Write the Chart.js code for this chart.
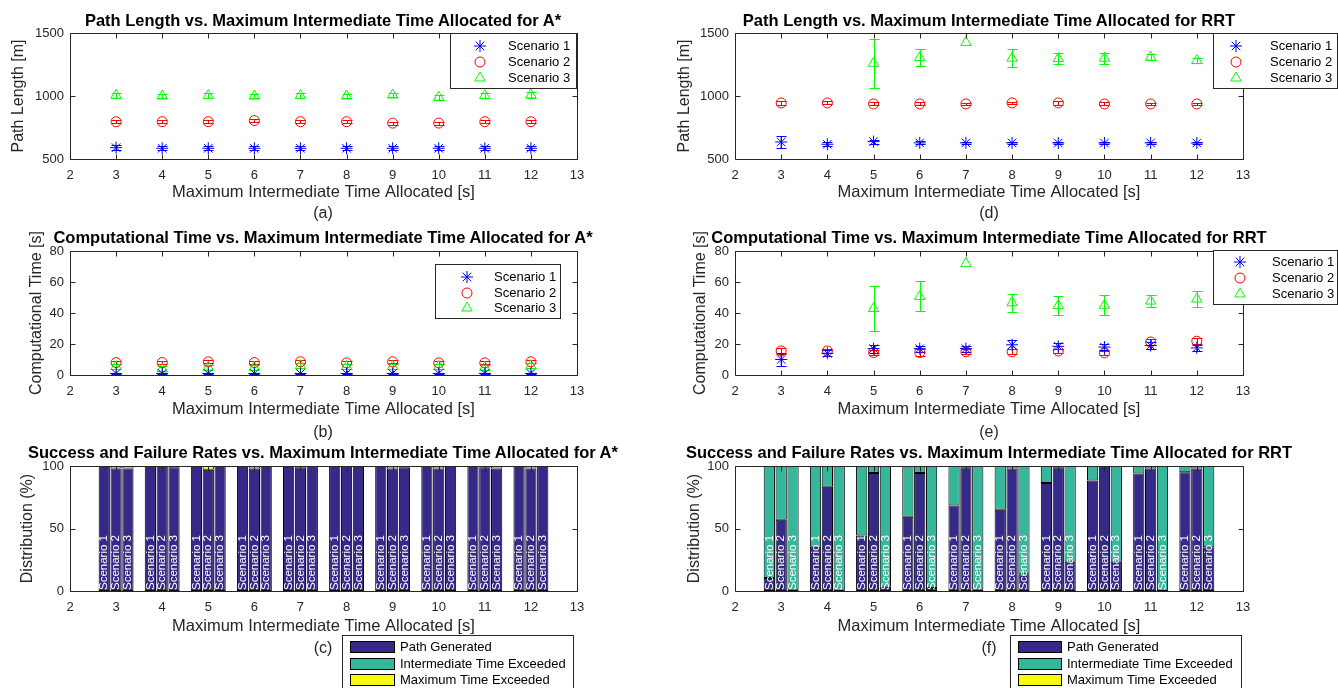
<!DOCTYPE html>
<html>
<head>
<meta charset="utf-8">
<script src="https://cdn.jsdelivr.net/npm/chart.js@4.4.1/dist/chart.umd.min.js"></script>
<style>
  body { margin: 0; background: #fff; }
  #page { position: relative; width: 1338px; height: 688px; overflow: hidden; font-family: "Liberation Sans", Arial, sans-serif; }
  canvas { position: absolute; left: 0; top: 0; }
  .title { position: absolute; font-weight: bold; font-size: 16.5px; color: #000; white-space: nowrap; transform: translate(-50%, -50%); }
  .tag { position: absolute; font-size: 16px; color: #262626; white-space: nowrap; transform: translate(-50%, -50%); }
</style>
</head>
<body>
<div id="page">
  <canvas id="chartA" width="1338" height="688"></canvas>
  <canvas id="chartB" width="1338" height="688"></canvas>
  <canvas id="chartC" width="1338" height="688"></canvas>
  <canvas id="chartD" width="1338" height="688"></canvas>
  <canvas id="chartE" width="1338" height="688"></canvas>
  <canvas id="chartF" width="1338" height="688"></canvas>

  <div class="title" style="left:323px;top:20px">Path Length vs. Maximum Intermediate Time Allocated for A*</div>
  <div class="title" style="left:323px;top:237px">Computational Time vs. Maximum Intermediate Time Allocated for A*</div>
  <div class="title" style="left:323px;top:452px">Success and Failure Rates vs. Maximum Intermediate Time Allocated for A*</div>
  <div class="title" style="left:989px;top:20px">Path Length vs. Maximum Intermediate Time Allocated for RRT</div>
  <div class="title" style="left:989px;top:237px">Computational Time vs. Maximum Intermediate Time Allocated for RRT</div>
  <div class="title" style="left:989px;top:452px">Success and Failure Rates vs. Maximum Intermediate Time Allocated for RRT</div>

  <div class="tag" style="left:323px;top:213px">(a)</div>
  <div class="tag" style="left:323px;top:432px">(b)</div>
  <div class="tag" style="left:323px;top:648px">(c)</div>
  <div class="tag" style="left:989px;top:213px">(d)</div>
  <div class="tag" style="left:989px;top:432px">(e)</div>
  <div class="tag" style="left:989px;top:648px">(f)</div>
</div>
<script>
  // x positions (maximum intermediate time allocated, s)
  var xValues = [3, 4, 5, 6, 7, 8, 9, 10, 11, 12];
  var scenarioNames = ["Scenario 1", "Scenario 2", "Scenario 3"];
  var outcomeNames = ["Path Generated", "Intermediate Time Exceeded", "Maximum Time Exceeded"];

  // (a) A* path length [m]
  var astarLength1 = [590, 585, 585, 585, 585, 585, 585, 585, 585, 585];
  var astarLength2 = [796, 796, 796, 805, 796, 796, 785, 785, 796, 796];
  var astarLength3 = [1005, 1000, 1003, 1000, 1003, 1000, 1008, 990, 1003, 1008];
  var astarLengthErr1 = [20, 15, 15, 15, 15, 15, 15, 15, 15, 15];
  var astarLengthErr2 = [12, 12, 12, 12, 12, 12, 12, 12, 12, 12];
  var astarLengthErr3 = [20, 18, 18, 18, 18, 18, 18, 18, 18, 20];

  // (b) A* computational time [s]
  var astarTime1 = [1, 1, 1, 1, 1, 1, 1, 1, 1, 1];
  var astarTime2 = [8, 8, 8.5, 8, 8.5, 7.8, 8.5, 7.8, 7.8, 8.5];
  var astarTime3 = [5.5, 4, 5, 5, 6, 5.5, 5.5, 5.5, 5, 6];
  var astarTimeErr1 = [0.5, 0.5, 0.5, 0.5, 0.5, 0.5, 0.5, 0.5, 0.5, 0.5];
  var astarTimeErr2 = [1, 1, 1, 1, 1, 1, 1, 1, 1, 1];
  var astarTimeErr3 = [1.5, 1.5, 1.5, 1.5, 1.5, 1.5, 1.5, 1.5, 1.5, 1.5];

  // (c) A* outcome distribution [%]
  var astarGenerated1 = [100, 100, 100, 100, 100, 100, 100, 100, 100, 100];
  var astarGenerated2 = [98, 100, 97, 98, 99, 100, 98, 98, 99, 98];
  var astarGenerated3 = [98, 99, 100, 100, 100, 100, 99, 100, 98, 100];
  var astarIntermediate1 = [0, 0, 0, 0, 0, 0, 0, 0, 0, 0];
  var astarIntermediate2 = [0, 0, 0, 0, 1, 0, 0, 0, 1, 0];
  var astarIntermediate3 = [0, 1, 0, 0, 0, 0, 1, 0, 0, 0];
  var astarMaximum1 = [0, 0, 0, 0, 0, 0, 0, 0, 0, 0];
  var astarMaximum2 = [2, 0, 3, 2, 0, 0, 2, 2, 0, 2];
  var astarMaximum3 = [2, 0, 0, 0, 0, 0, 0, 0, 2, 0];

  // (d) RRT path length [m]
  var rrtLength1 = [635, 617, 638, 628, 628, 628, 627, 627, 628, 627];
  var rrtLength2 = [945, 945, 937, 937, 937, 945, 945, 937, 937, 937];
  var rrtLength3 = [null, null, 1260, 1305, 1425, 1300, 1297, 1300, 1308, 1281];
  var rrtLengthErr1 = [48, 15, 15, 12, 10, 10, 10, 10, 10, 10];
  var rrtLengthErr2 = [15, 12, 12, 12, 10, 10, 15, 12, 10, 10];
  var rrtLengthErr3 = [null, null, 195, 70, 0, 70, 45, 45, 25, 20];

  // (e) RRT computational time [s]
  var rrtTime1 = [10, 14, 17, 17, 17, 19.5, 18.5, 18, 19, 17.5];
  var rrtTime2 = [15.5, 15.5, 14.5, 14.5, 15, 15, 15.5, 14.3, 21.3, 21.8];
  var rrtTime3 = [null, null, 42.9, 50.7, 72, 46.6, 44.8, 45, 47.7, 49];
  var rrtTimeErr1 = [4, 2, 2.5, 2, 2, 3, 2, 2, 2.5, 2];
  var rrtTimeErr2 = [2, 1.5, 1.5, 2, 1.5, 1.5, 1.5, 1.5, 2, 2];
  var rrtTimeErr3 = [null, null, 14.3, 9.7, 0, 5.7, 6, 6.6, 4, 5.4];

  // (f) RRT outcome distribution [%]
  var rrtGenerated1 = [10.5, 35.5, 44.5, 59.5, 68.5, 65, 86.5, 88.5, 94, 95];
  var rrtGenerated2 = [57, 83.5, 94.5, 94.5, 99, 98, 99, 100, 98, 98];
  var rrtGenerated3 = [1, 0, 3.5, 2.5, 1, 13.5, 23.5, 23.5, 0, 35];
  var rrtIntermediate1 = [89.5, 64.5, 55.5, 40.5, 31.5, 35, 13.5, 11.5, 6, 5];
  var rrtIntermediate2 = [43, 16.5, 5.5, 5.5, 1, 2, 1, 0, 2, 2];
  var rrtIntermediate3 = [99, 100, 96.5, 97.5, 99, 86.5, 76.5, 76.5, 100, 65];
  var rrtMaximum1 = [0, 0, 0, 0, 0, 0, 0, 0, 0, 0];
  var rrtMaximum2 = [0, 0, 0, 0, 0, 0, 0, 0, 0, 0];
  var rrtMaximum3 = [0, 0, 0, 0, 0, 0, 0, 0, 0, 0];

  var fontFamily = '"Liberation Sans", Arial, sans-serif';
  var axisColor = "#262626";
  var markerColors = ["#0000ff", "#ff0000", "#00ff00"];
  var markerStyles = ["star", "circle", "triangle"];
  var markerSizes = [6, 5, 6];
  var outcomeColors = ["#352a87", "#35b79c", "#f9fb0e"];

  // frame with inward ticks on all four sides, like a boxed axes
  var framePlugin = {
    id: "frame",
    afterDraw: function(chart) {
      var a = chart.chartArea, ctx = chart.ctx;
      var xs = chart.scales.x, ys = chart.scales.y;
      var l = Math.round(a.left) + 0.5, r = Math.round(a.right) + 0.5;
      var t = Math.round(a.top) + 0.5, b = Math.round(a.bottom) + 0.5;
      ctx.save();
      ctx.strokeStyle = axisColor;
      ctx.lineWidth = 1;
      ctx.beginPath();
      ctx.rect(l, t, r - l, b - t);
      xs.ticks.forEach(function(tk) {
        var px = Math.round(xs.getPixelForValue(tk.value)) + 0.5;
        ctx.moveTo(px, b); ctx.lineTo(px, b - 5);
        ctx.moveTo(px, t); ctx.lineTo(px, t + 5);
      });
      ys.ticks.forEach(function(tk) {
        var py = Math.round(ys.getPixelForValue(tk.value)) + 0.5;
        ctx.moveTo(l, py); ctx.lineTo(l + 5, py);
        ctx.moveTo(r, py); ctx.lineTo(r - 5, py);
      });
      ctx.stroke();
      ctx.restore();
    }
  };

  var errorBarPlugin = {
    id: "errorBars",
    beforeDatasetsDraw: function(chart) {
      var ctx = chart.ctx, ys = chart.scales.y, a = chart.chartArea;
      ctx.save();
      ctx.beginPath();
      ctx.rect(a.left, a.top, a.right - a.left, a.bottom - a.top);
      ctx.clip();
      chart.data.datasets.forEach(function(ds, i) {
        if (!ds.errors) return;
        var meta = chart.getDatasetMeta(i);
        ctx.strokeStyle = ds.borderColor;
        ctx.lineWidth = 1;
        meta.data.forEach(function(pt, j) {
          var v = ds.data[j].y, e = ds.errors[j];
          if (v == null || e == null || e === 0) return;
          var x = Math.round(pt.x) + 0.5;
          var y1 = Math.round(ys.getPixelForValue(v + e)) + 0.5;
          var y2 = Math.round(ys.getPixelForValue(v - e)) + 0.5;
          ctx.beginPath();
          ctx.moveTo(x, y1); ctx.lineTo(x, y2);
          ctx.moveTo(x - 5, y1); ctx.lineTo(x + 5, y1);
          ctx.moveTo(x - 5, y2); ctx.lineTo(x + 5, y2);
          ctx.stroke();
        });
      });
      ctx.restore();
    }
  };

  var markerLegendPlugin = {
    id: "markerLegend",
    afterDraw: function(chart, args, o) {
      var ctx = chart.ctx;
      ctx.save();
      ctx.fillStyle = "#fff";
      ctx.fillRect(o.left, o.top, o.width, o.height);
      ctx.strokeStyle = axisColor;
      ctx.lineWidth = 1;
      ctx.strokeRect(o.left + 0.5, o.top + 0.5, o.width, o.height);
      chart.data.datasets.forEach(function(ds, i) {
        var y = o.rows[i];
        ctx.strokeStyle = ds.borderColor;
        ctx.fillStyle = "rgba(0,0,0,0)";
        ctx.lineWidth = 1;
        Chart.helpers.drawPoint(ctx, { pointStyle: ds.pointStyle, radius: ds.pointRadius, borderWidth: 1, rotation: 0 }, o.markerX, y);
        ctx.fillStyle = "#000";
        ctx.font = "13px " + fontFamily;
        ctx.textBaseline = "middle";
        ctx.textAlign = "left";
        ctx.fillText(ds.label, o.textX, y);
      });
      ctx.restore();
    }
  };

  var barLegendPlugin = {
    id: "barLegend",
    afterDraw: function(chart, args, o) {
      var ctx = chart.ctx;
      ctx.save();
      ctx.fillStyle = "#fff";
      ctx.fillRect(o.left, o.top, o.width, o.height);
      ctx.strokeStyle = axisColor;
      ctx.lineWidth = 1;
      ctx.strokeRect(o.left + 0.5, o.top + 0.5, o.width, o.height);
      outcomeNames.forEach(function(name, k) {
        var y = o.rows[k];
        ctx.fillStyle = outcomeColors[k];
        ctx.fillRect(o.rectX, y - 6, o.rectW, 12);
        ctx.strokeStyle = "#000";
        ctx.strokeRect(o.rectX + 0.5, y - 5.5, o.rectW, 11);
        ctx.fillStyle = "#000";
        ctx.font = "13px " + fontFamily;
        ctx.textBaseline = "middle";
        ctx.textAlign = "left";
        ctx.fillText(name, o.textX, y);
      });
      ctx.restore();
    }
  };

  var barTextPlugin = {
    id: "barText",
    afterDatasetsDraw: function(chart) {
      var ctx = chart.ctx, a = chart.chartArea;
      ctx.save();
      ctx.fillStyle = "#fff";
      ctx.font = "11.5px " + fontFamily;
      ctx.textAlign = "left";
      ctx.textBaseline = "middle";
      chart.data.datasets.forEach(function(ds, i) {
        if (!ds.barText) return;
        chart.getDatasetMeta(i).data.forEach(function(bar) {
          ctx.save();
          ctx.translate(bar.x, a.bottom - 1);
          ctx.rotate(-Math.PI / 2);
          ctx.fillText(ds.barText, 0, 0);
          ctx.restore();
        });
      });
      ctx.restore();
    }
  };

  function points(values) {
    return xValues.map(function(x, j) { return { x: x, y: values[j] }; });
  }

  function scatterSets(series, errors) {
    return series.map(function(values, s) {
      return {
        label: scenarioNames[s],
        data: points(values),
        errors: errors[s],
        pointStyle: markerStyles[s],
        pointRadius: markerSizes[s],
        borderColor: markerColors[s],
        backgroundColor: "rgba(0,0,0,0)",
        borderWidth: 1,
        showLine: false
      };
    });
  }

  function barSets(generated, intermediate, maximum) {
    var sets = [];
    [generated, intermediate, maximum].forEach(function(group, k) {
      group.forEach(function(values, s) {
        sets.push({
          label: outcomeNames[k],
          stack: "S" + (s + 1),
          data: points(values),
          backgroundColor: outcomeColors[k],
          borderColor: "#000",
          borderWidth: 1,
          borderSkipped: false,
          barPercentage: 0.95,
          categoryPercentage: 0.77,
          barText: k === 0 ? scenarioNames[s] : null
        });
      });
    });
    return sets;
  }

  function plainTick(v) { return String(v); }

  function scales(g, xTitle, yTitle, yMin, yMax, yStep, stacked) {
    var y = {
      type: "linear", min: yMin, max: yMax,
      grid: { display: false, drawTicks: false }, border: { display: false },
      ticks: { stepSize: yStep, padding: 6, color: axisColor, font: { family: fontFamily, size: 13 }, callback: plainTick },
      title: { display: true, text: yTitle, color: axisColor, padding: 0, font: { family: fontFamily, size: 16 } },
      afterFit: function(s) { s.width = g.w; }
    };
    if (stacked) y.stacked = true;
    return {
      x: {
        type: "linear", min: 2, max: 13, offset: false,
        grid: { display: false, drawTicks: false }, border: { display: false },
        ticks: { stepSize: 1, autoSkip: false, maxRotation: 0, padding: 9, color: axisColor, font: { family: fontFamily, size: 13 }, callback: plainTick },
        title: { display: true, text: xTitle, color: axisColor, padding: 0, font: { family: fontFamily, size: 16.5 } },
        afterFit: function(s) { s.height = g.h; }
      },
      y: y
    };
  }

  function layout(g) {
    return { padding: { left: g.left - g.w, right: 1338 - g.right, top: g.top, bottom: 688 - g.bottom - g.h } };
  }

  function scatterChart(id, g, series, errors, yTitle, yMin, yMax, yStep, legend) {
    return new Chart(document.getElementById(id), {
      type: "scatter",
      data: { datasets: scatterSets(series, errors) },
      options: {
        responsive: false, animation: false, devicePixelRatio: 1,
        layout: layout(g),
        scales: scales(g, "Maximum Intermediate Time Allocated [s]", yTitle, yMin, yMax, yStep, false),
        plugins: { legend: { display: false }, tooltip: { enabled: false }, markerLegend: legend }
      },
      plugins: [errorBarPlugin, framePlugin, markerLegendPlugin]
    });
  }

  function barChart(id, g, generated, intermediate, maximum, legend) {
    return new Chart(document.getElementById(id), {
      type: "bar",
      data: { datasets: barSets(generated, intermediate, maximum) },
      options: {
        responsive: false, animation: false, devicePixelRatio: 1,
        layout: layout(g),
        scales: scales(g, "Maximum Intermediate Time Allocated [s]", "Distribution (%)", 0, 100, 50, true),
        plugins: { legend: { display: false }, tooltip: { enabled: false }, barLegend: legend }
      },
      plugins: [barTextPlugin, framePlugin, barLegendPlugin]
    });
  }

  scatterChart("chartA", { left: 70, right: 577, top: 33, bottom: 159, h: 43, w: 61 },
    [astarLength1, astarLength2, astarLength3], [astarLengthErr1, astarLengthErr2, astarLengthErr3],
    "Path Length [m]", 500, 1500, 500,
    { left: 450, top: 33, width: 126, height: 55, markerX: 480, textX: 508, rows: [46, 62, 78] });

  scatterChart("chartB", { left: 70, right: 577, top: 251, bottom: 375, h: 44, w: 43 },
    [astarTime1, astarTime2, astarTime3], [astarTimeErr1, astarTimeErr2, astarTimeErr3],
    "Computational Time [s]", 0, 80, 20,
    { left: 435, top: 264, width: 125, height: 54, markerX: 467, textX: 494, rows: [277, 293, 308] });

  barChart("chartC", { left: 70, right: 577, top: 466, bottom: 591, h: 45, w: 52 },
    [astarGenerated1, astarGenerated2, astarGenerated3],
    [astarIntermediate1, astarIntermediate2, astarIntermediate3],
    [astarMaximum1, astarMaximum2, astarMaximum3],
    { left: 342, top: 635, width: 231, height: 60, rectX: 350, rectW: 44, textX: 400, rows: [647, 664, 680] });

  scatterChart("chartD", { left: 735, right: 1243, top: 33, bottom: 159, h: 43, w: 60 },
    [rrtLength1, rrtLength2, rrtLength3], [rrtLengthErr1, rrtLengthErr2, rrtLengthErr3],
    "Path Length [m]", 500, 1500, 500,
    { left: 1213, top: 33, width: 124, height: 55, markerX: 1236, textX: 1270, rows: [46, 62, 78] });

  scatterChart("chartE", { left: 735, right: 1243, top: 251, bottom: 375, h: 44, w: 44 },
    [rrtTime1, rrtTime2, rrtTime3], [rrtTimeErr1, rrtTimeErr2, rrtTimeErr3],
    "Computational Time [s]", 0, 80, 20,
    { left: 1213, top: 250, width: 124, height: 54, markerX: 1240, textX: 1272, rows: [262, 278, 294] });

  barChart("chartF", { left: 735, right: 1243, top: 466, bottom: 591, h: 45, w: 50 },
    [rrtGenerated1, rrtGenerated2, rrtGenerated3],
    [rrtIntermediate1, rrtIntermediate2, rrtIntermediate3],
    [rrtMaximum1, rrtMaximum2, rrtMaximum3],
    { left: 1010, top: 635, width: 231, height: 60, rectX: 1018, rectW: 43, textX: 1067, rows: [647, 664, 680] });
</script>
</body>
</html>
